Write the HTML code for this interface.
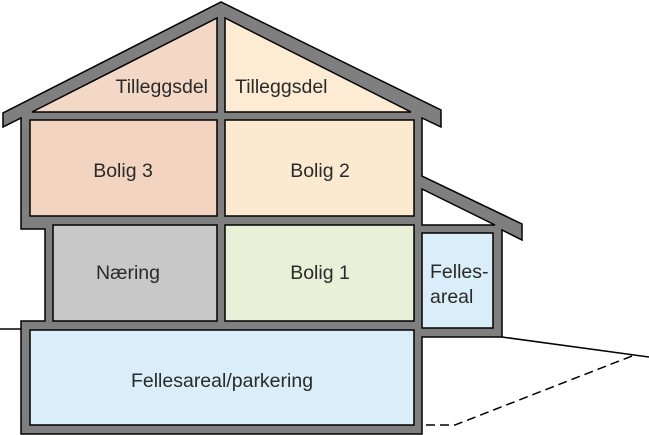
<!DOCTYPE html>
<html><head><meta charset="utf-8"><style>
html,body{margin:0;padding:0;background:#fff;}
svg{display:block;}
text{font-family:"Liberation Sans",sans-serif;font-size:19.5px;fill:#2a2a2a;}
</style></head><body>
<svg width="649" height="435" viewBox="0 0 649 435" xmlns="http://www.w3.org/2000/svg">
<polygon points="3,127 3,113 221,2 441,110 441,127 422,118 422,176 522,224 522,240 502,230 502,337 422,337 422,434 21,434 21,321 45,321 45,229 21,229 21,118" fill="#7f7f7f" stroke="#000" stroke-width="1.5" stroke-linejoin="miter"/>
<polygon points="422,189 495,225 422,225" fill="#fff" stroke="#000" stroke-width="1.5"/>
<polygon points="32,112 217,18 217,112" fill="#f4d8c6" stroke="#000" stroke-width="1.5"/>
<polygon points="225,18 225,112 411,112" fill="#fdebd3" stroke="#000" stroke-width="1.5"/>
<rect x="30" y="120" width="187" height="96" fill="#f2d4c0" stroke="#000" stroke-width="1.5"/>
<rect x="225" y="120" width="189" height="96" fill="#fcead0" stroke="#000" stroke-width="1.5"/>
<rect x="53" y="225" width="164" height="96" fill="#c8c8c8" stroke="#000" stroke-width="1.5"/>
<rect x="225" y="225" width="189" height="96" fill="#e9f0d8" stroke="#000" stroke-width="1.5"/>
<rect x="422" y="233" width="71" height="95" fill="#d9eef8" stroke="#000" stroke-width="1.5"/>
<rect x="30" y="330" width="384" height="95" fill="#d9eef8" stroke="#000" stroke-width="1.5"/>
<line x1="0" y1="329" x2="21" y2="329" stroke="#000" stroke-width="1.5"/>
<line x1="502" y1="337" x2="649" y2="357" stroke="#000" stroke-width="1.5"/>
<polyline points="632,356 455,425 422,425" fill="none" stroke="#000" stroke-width="1.5" stroke-dasharray="9,5"/>
<text x="208" y="93" text-anchor="end">Tilleggsdel</text>
<text x="235" y="93">Tilleggsdel</text>
<text x="123" y="177" text-anchor="middle">Bolig 3</text>
<text x="320" y="177" text-anchor="middle">Bolig 2</text>
<text x="128" y="279" text-anchor="middle">Næring</text>
<text x="320" y="279" text-anchor="middle">Bolig 1</text>
<text x="430" y="278">Felles-</text>
<text x="430" y="303">areal</text>
<text x="222" y="387" text-anchor="middle">Fellesareal/parkering</text>
</svg>
</body></html>
